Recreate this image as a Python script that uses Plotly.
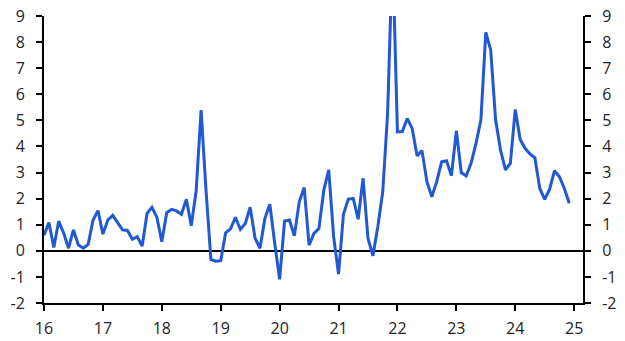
import plotly.graph_objects as go

years = [16, 17, 18, 19, 20, 21, 22, 23, 24]
values_by_year = {
    16: [0.6, 1.08, 0.13, 1.14, 0.68, 0.1, 0.8, 0.22, 0.1, 0.25, 1.18, 1.54],
    17: [0.64, 1.18, 1.36, 1.1, 0.8, 0.78, 0.44, 0.54, 0.18, 1.44, 1.67, 1.28],
    18: [0.35, 1.46, 1.59, 1.53, 1.4, 1.98, 0.96, 2.3, 5.39, 2.33, -0.33, -0.4],
    19: [-0.38, 0.69, 0.84, 1.28, 0.82, 1.05, 1.67, 0.48, 0.1, 1.24, 1.79, 0.29],
    20: [-1.09, 1.14, 1.18, 0.58, 1.88, 2.43, 0.22, 0.67, 0.85, 2.33, 3.1, 0.54],
    21: [-0.89, 1.4, 1.98, 2.01, 1.21, 2.78, 0.48, -0.19, 0.92, 2.26, 5.27, 11.5],
    22: [4.56, 4.57, 5.07, 4.69, 3.64, 3.84, 2.65, 2.07, 2.65, 3.41, 3.45, 2.88],
    23: [4.6, 3.0, 2.87, 3.35, 4.12, 5.01, 8.37, 7.69, 5.01, 3.86, 3.1, 3.35],
    24: [5.42, 4.27, 3.93, 3.71, 3.56, 2.39, 1.97, 2.36, 3.07, 2.84, 2.39, 1.82],
}
x_ticks = [16, 17, 18, 19, 20, 21, 22, 23, 24, 25]
x_tick_labels = ["16", "17", "18", "19", "20", "21", "22", "23", "24", "25"]
y_ticks = [-2, -1, 0, 1, 2, 3, 4, 5, 6, 7, 8, 9]
y_tick_labels = ["-2", "-1", "0", "1", "2", "3", "4", "5", "6", "7", "8", "9"]

x = []
y = []
for yr in years:
    for m, v in enumerate(values_by_year[yr]):
        x.append(yr + m / 12)
        y.append(v)

LINE = "#2158d4"
font = dict(family="Open Sans, Noto Sans, sans-serif", size=16, color="#222222")

fig = go.Figure()
fig.add_trace(go.Scatter(x=x, y=y, mode="lines", line=dict(color=LINE, width=3),
                         showlegend=False, hoverinfo="skip"))
fig.add_trace(go.Scatter(x=x, y=y, mode="lines", line=dict(width=0), opacity=0,
                         yaxis="y2", showlegend=False, hoverinfo="skip"))

common = dict(showgrid=False, showline=True, linecolor="black", linewidth=2,
              ticks="outside", ticklen=6, tickwidth=2, tickcolor="black",
              tickfont=font, automargin=False)

fig.update_layout(
    width=625, height=341,
    margin=dict(l=44, r=42, t=16, b=38, autoexpand=False),
    paper_bgcolor="white", plot_bgcolor="white",
    font=font,
    xaxis=dict(range=[16, 25.15], tickvals=x_ticks, ticktext=x_tick_labels,
               zeroline=False, ticklabelstandoff=4, **common),
    yaxis=dict(range=[-2, 9], tickvals=y_ticks, ticktext=y_tick_labels,
               zeroline=True, zerolinecolor="black", zerolinewidth=2,
               ticklabelstandoff=8, **common),
    yaxis2=dict(range=[-2, 9], tickvals=y_ticks, ticktext=y_tick_labels,
                overlaying="y", side="right", anchor="x", zeroline=False,
                ticklabelstandoff=8, **common),
)

fig.write_html("out.html")
